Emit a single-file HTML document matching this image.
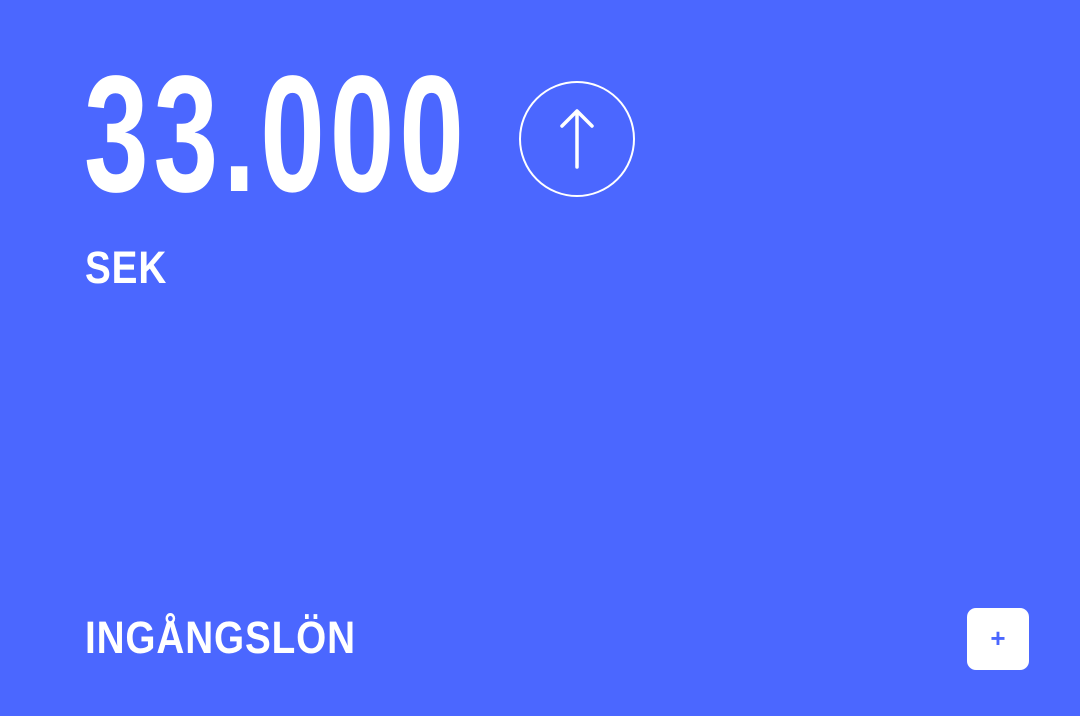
<!DOCTYPE html>
<html><head><meta charset="utf-8"><style>
html,body{margin:0;padding:0}
body{width:1080px;height:716px;background:#4b67ff;position:relative;overflow:hidden;font-family:"Liberation Sans",sans-serif;color:#fff}
.t{position:absolute;white-space:nowrap;transform-origin:0 0}
</style></head><body>
<div class="t" style="left:84px;top:52px;font-size:166px;line-height:166px;font-weight:bold;letter-spacing:7px;transform:scaleX(0.70)">33.000</div>
<svg style="position:absolute;left:518px;top:80px" width="120" height="120" viewBox="0 0 120 120">
<circle cx="59" cy="59" r="57" fill="none" stroke="#fff" stroke-width="2"/>
<path d="M59 87 V31 M44 46 L59 31 L74 46" fill="none" stroke="#fff" stroke-width="3.5" stroke-linecap="round" stroke-linejoin="round"/>
</svg>
<div class="t" style="left:85px;top:245px;font-size:45px;line-height:46px;font-weight:bold;letter-spacing:1px;transform:scaleX(0.86)">SEK</div>
<div class="t" style="left:85px;top:615px;font-size:45px;line-height:46px;font-weight:bold;letter-spacing:1px;transform:scaleX(0.86)">INGÅNGSLÖN</div>
<div style="position:absolute;left:967px;top:608px;width:62px;height:62px;background:#fff;border-radius:9px;color:#4b67ff;font-size:26px;font-weight:bold;line-height:60px;text-align:center">+</div>
</body></html>
